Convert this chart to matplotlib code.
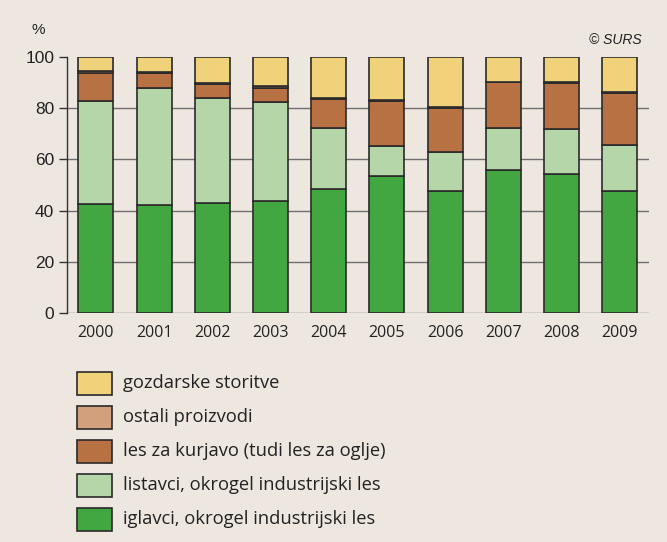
import numpy as np
import matplotlib.pyplot as plt
from matplotlib.patches import Rectangle

# Podatki (delež v %)
years = ['2000', '2001', '2002', '2003', '2004', '2005', '2006', '2007', '2008', '2009']
iglavci = [42.5, 42.3, 43.0, 43.9, 48.4, 53.6, 47.8, 56.0, 54.5, 47.8]
listavci = [40.2, 45.5, 41.0, 38.4, 23.8, 11.7, 15.1, 16.3, 17.4, 17.7]
kurjavo = [11.1, 5.7, 5.2, 5.6, 11.3, 17.6, 17.2, 17.7, 17.8, 20.3]
ostali = [0.6, 0.7, 0.7, 0.5, 0.4, 0.3, 0.4, 0.3, 0.3, 0.3]
storitve = [5.6, 5.8, 10.1, 11.6, 16.1, 16.8, 19.5, 9.7, 10.0, 13.9]

labels = ['gozdarske storitve', 'ostali proizvodi', 'les za kurjavo (tudi les za oglje)',
          'listavci, okrogel industrijski les', 'iglavci, okrogel industrijski les']
colors = ['#F0D27A', '#D3A07E', '#B87142', '#B5D6A9', '#43A741']

bg = '#EDE7DF'
edge = '#2A2A2A'

fig = plt.figure(figsize=(6.67, 5.42), dpi=100, facecolor=bg)
ax = fig.add_axes([0.1, 0.4216, 0.873, 0.4738], facecolor=bg)

x = np.arange(len(years))
series = [iglavci, listavci, kurjavo, ostali, storitve]
series_colors = colors[::-1]
bottom = np.zeros(len(years))
for vals, c in zip(series, series_colors):
    ax.bar(x, vals, bottom=bottom, width=0.6, color=c, edgecolor=edge, linewidth=1.2, zorder=3)
    bottom += np.array(vals)

for yv in [0, 20, 40, 60, 80]:
    ax.axhline(yv, color='#6E6E6E', linewidth=1.0, zorder=1)

ax.set_xlim(-0.5, 9.5)
ax.set_ylim(0, 100)
ax.set_yticks([0, 20, 40, 60, 80, 100])
ax.set_xticks(x)
ax.set_xticklabels(years, fontfamily='Open Sans', fontsize=11.5, color='#222222')
for t in ax.get_yticklabels():
    t.set_fontfamily('Liberation Sans')
    t.set_fontsize(12.5)
    t.set_color('#222222')
ax.tick_params(axis='y', direction='out', length=6, width=1, color='#333333', pad=3)
ax.tick_params(axis='x', length=0, pad=8)

for s in ['top', 'right', 'bottom']:
    ax.spines[s].set_visible(False)
ax.spines['left'].set_color('#333333')
ax.spines['left'].set_linewidth(1.0)

fig.text(32 / 667, 1 - 30 / 542, '%', fontfamily='Liberation Sans', fontsize=11,
         color='#222222', ha='left', va='center')
fig.text(642 / 667, 1 - 40 / 542, '© SURS', fontfamily='Liberation Sans', fontsize=10,
         style='italic', color='#222222', ha='right', va='center')

# Legenda
for i, (lab, c) in enumerate(zip(labels, colors)):
    yc = 383 + i * 34
    fig.patches.append(Rectangle((77 / 667, 1 - (yc + 11.5) / 542), 35 / 667, 23 / 542,
                                 transform=fig.transFigure, facecolor=c, edgecolor=edge,
                                 linewidth=1.2))
    fig.text(123 / 667, 1 - yc / 542, lab, fontfamily='Open Sans', fontsize=13.2,
             color='#222222', ha='left', va='center')

fig.savefig('out.png', dpi=100, facecolor=bg)
